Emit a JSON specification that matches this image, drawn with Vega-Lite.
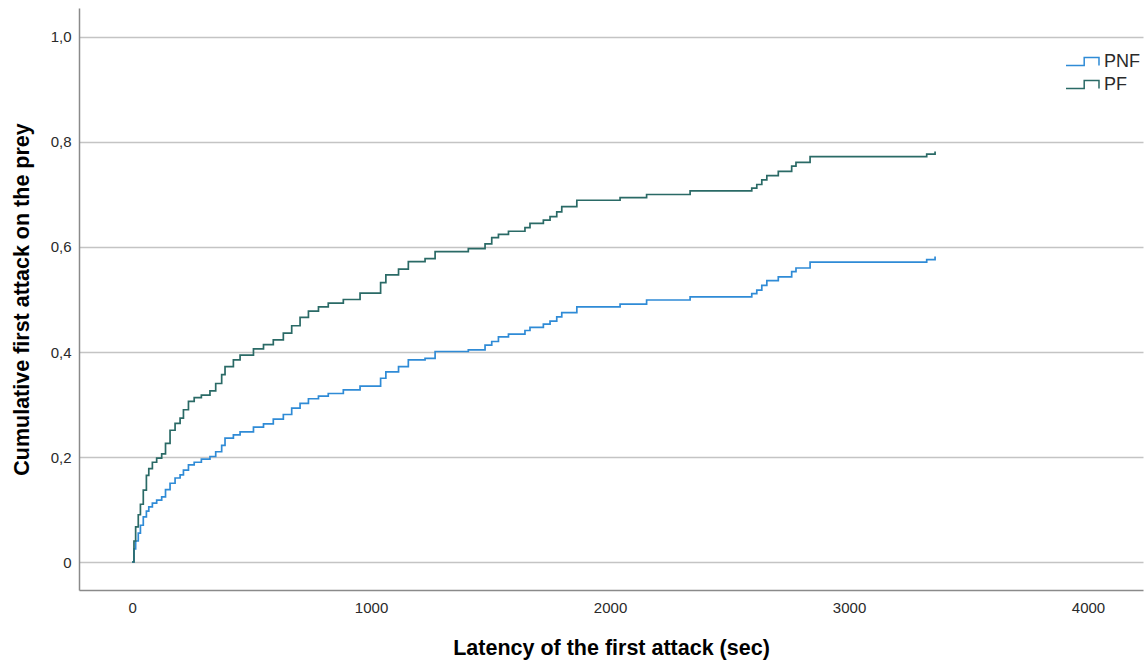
{
  "$schema": "https://vega.github.io/schema/vega-lite/v6.json",
  "width": 1064,
  "height": 582,
  "autosize": {"type": "none"},
  "padding": {"left": 79, "top": 8, "right": 2, "bottom": 75},
  "background": "white",
  "config": {
    "view": {"stroke": null},
    "font": "Liberation Sans",
    "axis": {
      "labelFont": "Liberation Sans",
      "titleFont": "Liberation Sans",
      "labelFontSize": 15,
      "labelColor": "#2a2a2a",
      "titleFontSize": 21.5,
      "titleFontWeight": "bold",
      "titleColor": "#000000",
      "ticks": false,
      "domainColor": "#8a8a8a",
      "domainWidth": 1.5
    }
  },
  "data": {
    "values": [
      {"t": 0, "p": 0, "g": "PNF"}, {"t": 8, "p": 0.025, "g": "PNF"}, {"t": 15, "p": 0.04, "g": "PNF"}, {"t": 26, "p": 0.055, "g": "PNF"}, {"t": 35, "p": 0.07, "g": "PNF"}, {"t": 47, "p": 0.086, "g": "PNF"}, {"t": 60, "p": 0.097, "g": "PNF"}, {"t": 70, "p": 0.105, "g": "PNF"}, {"t": 85, "p": 0.112, "g": "PNF"}, {"t": 103, "p": 0.118, "g": "PNF"}, {"t": 124, "p": 0.124, "g": "PNF"}, {"t": 140, "p": 0.138, "g": "PNF"}, {"t": 159, "p": 0.15, "g": "PNF"}, {"t": 180, "p": 0.16, "g": "PNF"}, {"t": 201, "p": 0.166, "g": "PNF"}, {"t": 215, "p": 0.175, "g": "PNF"}, {"t": 236, "p": 0.185, "g": "PNF"}, {"t": 260, "p": 0.19, "g": "PNF"}, {"t": 290, "p": 0.196, "g": "PNF"}, {"t": 326, "p": 0.201, "g": "PNF"}, {"t": 350, "p": 0.21, "g": "PNF"}, {"t": 375, "p": 0.222, "g": "PNF"}, {"t": 389, "p": 0.236, "g": "PNF"}, {"t": 424, "p": 0.242, "g": "PNF"}, {"t": 452, "p": 0.248, "g": "PNF"}, {"t": 508, "p": 0.257, "g": "PNF"}, {"t": 550, "p": 0.263, "g": "PNF"}, {"t": 591, "p": 0.272, "g": "PNF"}, {"t": 633, "p": 0.281, "g": "PNF"}, {"t": 668, "p": 0.293, "g": "PNF"}, {"t": 703, "p": 0.302, "g": "PNF"}, {"t": 738, "p": 0.311, "g": "PNF"}, {"t": 780, "p": 0.316, "g": "PNF"}, {"t": 821, "p": 0.321, "g": "PNF"}, {"t": 884, "p": 0.328, "g": "PNF"}, {"t": 954, "p": 0.335, "g": "PNF"}, {"t": 1040, "p": 0.35, "g": "PNF"}, {"t": 1062, "p": 0.362, "g": "PNF"}, {"t": 1115, "p": 0.372, "g": "PNF"}, {"t": 1156, "p": 0.385, "g": "PNF"}, {"t": 1226, "p": 0.388, "g": "PNF"}, {"t": 1268, "p": 0.401, "g": "PNF"}, {"t": 1407, "p": 0.404, "g": "PNF"}, {"t": 1477, "p": 0.413, "g": "PNF"}, {"t": 1505, "p": 0.42, "g": "PNF"}, {"t": 1533, "p": 0.429, "g": "PNF"}, {"t": 1575, "p": 0.434, "g": "PNF"}, {"t": 1644, "p": 0.441, "g": "PNF"}, {"t": 1665, "p": 0.447, "g": "PNF"}, {"t": 1721, "p": 0.453, "g": "PNF"}, {"t": 1749, "p": 0.459, "g": "PNF"}, {"t": 1777, "p": 0.467, "g": "PNF"}, {"t": 1798, "p": 0.475, "g": "PNF"}, {"t": 1861, "p": 0.486, "g": "PNF"}, {"t": 2042, "p": 0.491, "g": "PNF"}, {"t": 2153, "p": 0.499, "g": "PNF"}, {"t": 2335, "p": 0.505, "g": "PNF"}, {"t": 2593, "p": 0.511, "g": "PNF"}, {"t": 2614, "p": 0.518, "g": "PNF"}, {"t": 2635, "p": 0.527, "g": "PNF"}, {"t": 2656, "p": 0.536, "g": "PNF"}, {"t": 2704, "p": 0.543, "g": "PNF"}, {"t": 2760, "p": 0.553, "g": "PNF"}, {"t": 2778, "p": 0.56, "g": "PNF"}, {"t": 2837, "p": 0.571, "g": "PNF"}, {"t": 3325, "p": 0.576, "g": "PNF"}, {"t": 3360, "p": 0.582, "g": "PNF"},
      {"t": 0, "p": 0, "g": "PF"}, {"t": 8, "p": 0.04, "g": "PF"}, {"t": 15, "p": 0.067, "g": "PF"}, {"t": 26, "p": 0.09, "g": "PF"}, {"t": 35, "p": 0.11, "g": "PF"}, {"t": 47, "p": 0.137, "g": "PF"}, {"t": 60, "p": 0.165, "g": "PF"}, {"t": 70, "p": 0.178, "g": "PF"}, {"t": 85, "p": 0.19, "g": "PF"}, {"t": 103, "p": 0.198, "g": "PF"}, {"t": 124, "p": 0.206, "g": "PF"}, {"t": 140, "p": 0.226, "g": "PF"}, {"t": 159, "p": 0.251, "g": "PF"}, {"t": 180, "p": 0.264, "g": "PF"}, {"t": 201, "p": 0.274, "g": "PF"}, {"t": 215, "p": 0.29, "g": "PF"}, {"t": 236, "p": 0.306, "g": "PF"}, {"t": 260, "p": 0.313, "g": "PF"}, {"t": 290, "p": 0.318, "g": "PF"}, {"t": 326, "p": 0.326, "g": "PF"}, {"t": 350, "p": 0.34, "g": "PF"}, {"t": 375, "p": 0.357, "g": "PF"}, {"t": 389, "p": 0.372, "g": "PF"}, {"t": 424, "p": 0.385, "g": "PF"}, {"t": 452, "p": 0.394, "g": "PF"}, {"t": 508, "p": 0.406, "g": "PF"}, {"t": 550, "p": 0.414, "g": "PF"}, {"t": 591, "p": 0.423, "g": "PF"}, {"t": 633, "p": 0.436, "g": "PF"}, {"t": 668, "p": 0.45, "g": "PF"}, {"t": 703, "p": 0.466, "g": "PF"}, {"t": 738, "p": 0.478, "g": "PF"}, {"t": 780, "p": 0.486, "g": "PF"}, {"t": 821, "p": 0.493, "g": "PF"}, {"t": 884, "p": 0.5, "g": "PF"}, {"t": 954, "p": 0.512, "g": "PF"}, {"t": 1040, "p": 0.532, "g": "PF"}, {"t": 1062, "p": 0.547, "g": "PF"}, {"t": 1115, "p": 0.558, "g": "PF"}, {"t": 1156, "p": 0.572, "g": "PF"}, {"t": 1226, "p": 0.578, "g": "PF"}, {"t": 1268, "p": 0.591, "g": "PF"}, {"t": 1407, "p": 0.597, "g": "PF"}, {"t": 1477, "p": 0.606, "g": "PF"}, {"t": 1505, "p": 0.618, "g": "PF"}, {"t": 1533, "p": 0.624, "g": "PF"}, {"t": 1575, "p": 0.63, "g": "PF"}, {"t": 1644, "p": 0.637, "g": "PF"}, {"t": 1665, "p": 0.645, "g": "PF"}, {"t": 1721, "p": 0.651, "g": "PF"}, {"t": 1749, "p": 0.658, "g": "PF"}, {"t": 1777, "p": 0.667, "g": "PF"}, {"t": 1798, "p": 0.677, "g": "PF"}, {"t": 1861, "p": 0.689, "g": "PF"}, {"t": 2042, "p": 0.694, "g": "PF"}, {"t": 2153, "p": 0.7, "g": "PF"}, {"t": 2335, "p": 0.707, "g": "PF"}, {"t": 2593, "p": 0.712, "g": "PF"}, {"t": 2614, "p": 0.719, "g": "PF"}, {"t": 2635, "p": 0.728, "g": "PF"}, {"t": 2656, "p": 0.736, "g": "PF"}, {"t": 2704, "p": 0.744, "g": "PF"}, {"t": 2760, "p": 0.754, "g": "PF"}, {"t": 2778, "p": 0.761, "g": "PF"}, {"t": 2837, "p": 0.772, "g": "PF"}, {"t": 3325, "p": 0.777, "g": "PF"}, {"t": 3360, "p": 0.782, "g": "PF"}
    ]
  },
  "mark": {"type": "line", "interpolate": "step-after", "strokeWidth": 1.7},
  "encoding": {
    "x": {
      "field": "t",
      "type": "quantitative",
      "scale": {"domain": [-222, 4230], "nice": false, "zero": false},
      "axis": {
        "title": "Latency of the first attack (sec)",
        "values": [0, 1000, 2000, 3000, 4000],
        "format": "d",
        "grid": false,
        "labelPadding": 10,
        "titleX": 532,
        "titleY": 58,
        "titleBaseline": "middle",
        "titleAlign": "center"
      }
    },
    "y": {
      "field": "p",
      "type": "quantitative",
      "scale": {"domain": [-0.0533, 1.0552], "nice": false, "zero": false},
      "axis": {
        "title": "Cumulative first attack on the prey",
        "values": [0, 0.2, 0.4, 0.6, 0.8, 1.0],
        "labelExpr": "datum.value == 0 ? '0' : replace(format(datum.value, '.1f'), '.', ',')",
        "grid": true,
        "gridColor": "#c4c4c4",
        "gridWidth": 1.5,
        "labelPadding": 8,
        "titleX": -57,
        "titleY": 291,
        "titleAngle": -90,
        "titleBaseline": "middle",
        "titleAlign": "center"
      }
    },
    "color": {
      "field": "g",
      "type": "nominal",
      "scale": {"domain": ["PNF", "PF"], "range": ["#2f8bd6", "#2a6a66"]},
      "legend": {
        "title": null,
        "orient": "none",
        "legendX": 994,
        "legendY": 44,
        "padding": 0,
        "symbolType": "M-1.94,0.47L0.2,0.47L0.2,-0.47L1.94,-0.47L1.94,0.47",
        "symbolSize": 289,
        "symbolStrokeWidth": 1.5,
        "symbolFillColor": "transparent",
        "labelFont": "Liberation Sans",
        "labelFontSize": 18,
        "labelColor": "#2a2a2a",
        "labelOffset": 12,
        "rowPadding": 4
      }
    }
  }
}
